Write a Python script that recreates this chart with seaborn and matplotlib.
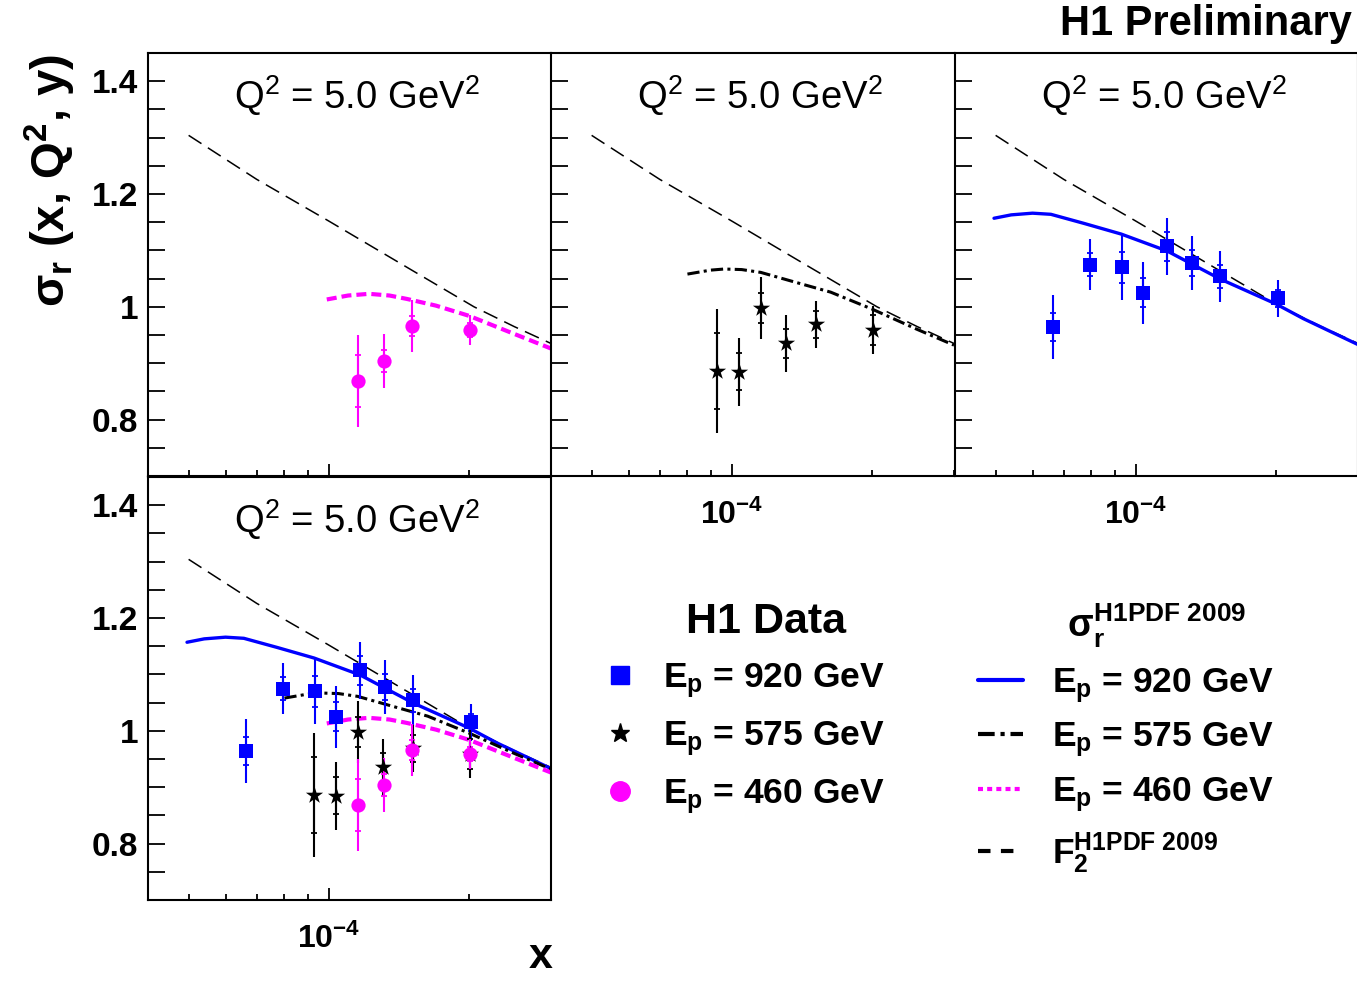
import numpy as np
import matplotlib
matplotlib.use("Agg")
import matplotlib.pyplot as plt
import matplotlib.ticker as mticker
from matplotlib.lines import Line2D
import seaborn as sns

# H1 data points at Q^2 = 5 GeV^2
x_920 = [0.665e-4, 0.796e-4, 0.932e-4, 1.037e-4, 1.164e-4, 1.317e-4, 1.519e-4, 2.016e-4]
y_920 = [0.964, 1.075, 1.070, 1.025, 1.107, 1.078, 1.054, 1.015]
stat_920 = [0.025, 0.020, 0.027, 0.026, 0.025, 0.023, 0.020, 0.015]
tot_920 = [0.057, 0.046, 0.058, 0.055, 0.050, 0.048, 0.045, 0.033]

x_575 = [0.929e-4, 1.034e-4, 1.156e-4, 1.309e-4, 1.517e-4, 2.010e-4]
y_575 = [0.886, 0.885, 0.998, 0.935, 0.969, 0.959]
stat_575 = [0.067, 0.033, 0.027, 0.025, 0.024, 0.026]
tot_575 = [0.110, 0.060, 0.055, 0.050, 0.042, 0.043]

x_460 = [1.154e-4, 1.312e-4, 1.512e-4, 2.007e-4]
y_460 = [0.868, 0.904, 0.966, 0.959]
stat_460 = [0.046, 0.020, 0.017, 0.012]
tot_460 = [0.082, 0.048, 0.046, 0.026]

# H1PDF 2009 predictions
curve_x_920 = [4.96e-5, 5.4e-5, 6.0e-5, 6.57e-5, 7.73e-5, 9.3e-5, 1.167e-4, 1.52e-4, 2.0e-4, 2.29e-4, 3.0e-4]
curve_y_920 = [1.157, 1.163, 1.166, 1.164, 1.148, 1.129, 1.099, 1.049, 1.005, 0.979, 0.933]

curve_x_575 = [8.03e-5, 9.0e-5, 9.63e-5, 1.05e-4, 1.154e-4, 1.35e-4, 1.63e-4, 2.0e-4, 2.5e-4, 3.0e-4]
curve_y_575 = [1.058, 1.065, 1.067, 1.066, 1.061, 1.045, 1.026, 0.996, 0.960, 0.932]

curve_x_460 = [0.99e-4, 1.1e-4, 1.22e-4, 1.35e-4, 1.47e-4, 1.7e-4, 2.0e-4, 2.5e-4, 3.0e-4]
curve_y_460 = [1.013, 1.020, 1.023, 1.020, 1.014, 1.002, 0.984, 0.952, 0.926]

f2_x = [5.0e-5, 7.0e-5, 1.0e-4, 1.5e-4, 2.05e-4, 2.5e-4, 3.0e-4]
f2_y = [1.304, 1.226, 1.152, 1.066, 1.000, 0.965, 0.935]

q2_label = "Q$^2$ = 5.0 GeV$^2$"
y_ticks = [0.8, 1.0, 1.2, 1.4]
y_tick_labels = ["0.8", "1", "1.2", "1.4"]

BLUE = "#0000ff"
MAGENTA = "#ff00ff"
BLACK = "#000000"

sns.set_style("ticks")
plt.rcParams["font.family"] = ["Liberation Sans", "DejaVu Sans"]
plt.rcParams["mathtext.fontset"] = "custom"
plt.rcParams["mathtext.rm"] = "Liberation Sans"
plt.rcParams["mathtext.it"] = "Liberation Sans:italic"
plt.rcParams["mathtext.bf"] = "Liberation Sans:bold"
for key in ["text.color", "axes.labelcolor", "xtick.color", "ytick.color", "axes.edgecolor"]:
    plt.rcParams[key] = "black"

fig = plt.figure(figsize=(13.57, 9.82), dpi=100)

W, H = 1357.0, 982.0


def make_axes(left_px, top_px):
    return fig.add_axes([left_px / W, 1 - (top_px + 423) / H, 403 / W, 423 / H])


def style_axes(ax, show_x_labels, show_y_labels, right_spine=True):
    ax.set_xscale("log")
    ax.set_xlim(4.09e-5, 3.0e-4)
    ax.set_ylim(0.7, 1.45)
    for sp in ax.spines.values():
        sp.set_linewidth(1.5)
        sp.set_color("black")
    ax.spines["right"].set_visible(right_spine)
    ax.xaxis.set_major_locator(mticker.LogLocator(base=10, subs=(1.0,)))
    ax.xaxis.set_minor_locator(mticker.LogLocator(base=10, subs=np.arange(2, 10)))
    ax.xaxis.set_minor_formatter(mticker.NullFormatter())
    ax.xaxis.set_major_formatter(mticker.FuncFormatter(lambda v, p: r"$\mathbf{10^{-4}}$"))
    ax.yaxis.set_major_locator(mticker.FixedLocator(y_ticks))
    ax.yaxis.set_minor_locator(mticker.MultipleLocator(0.05))
    ax.set_yticklabels(y_tick_labels)
    ax.tick_params(axis="y", which="both", direction="in", length=12, width=1.3,
                   left=True, right=False, labelsize=24, pad=7)
    ax.tick_params(axis="x", which="major", direction="in", length=8.5, width=1.3,
                   bottom=True, top=False, labelsize=23, pad=17)
    ax.tick_params(axis="x", which="minor", direction="in", length=4, width=1.3,
                   bottom=True, top=False)
    for lab in ax.get_yticklabels():
        lab.set_fontweight("bold")
    if not show_x_labels:
        ax.tick_params(axis="x", which="both", labelbottom=False)
    if not show_y_labels:
        ax.tick_params(axis="y", which="both", labelleft=False)
    ax.set_xlabel("")
    ax.set_ylabel("")
    ax.text(0.518, 0.90, q2_label, transform=ax.transAxes, ha="center", va="center",
            fontsize=27.5)


def draw_points(ax, x, y, stat, tot, color, marker, size):
    ax.errorbar(x, y, yerr=tot, fmt="none", ecolor=color, elinewidth=1.5, capsize=0, zorder=3)
    ax.errorbar(x, y, yerr=stat, fmt="none", ecolor=color, elinewidth=1.5, capsize=2.3,
                capthick=1.3, zorder=3)
    sns.scatterplot(x=x, y=y, ax=ax, color=color, marker=marker, s=size,
                    edgecolor=color, linewidth=0, zorder=4, legend=False)


def draw_f2(ax):
    sns.lineplot(x=f2_x, y=f2_y, ax=ax, color=BLACK, linewidth=1.1,
                 linestyle=(0, (10, 5)), zorder=2)


def draw_920(ax):
    sns.lineplot(x=curve_x_920, y=curve_y_920, ax=ax, color=BLUE, linewidth=2.4, zorder=2)
    draw_points(ax, x_920, y_920, stat_920, tot_920, BLUE, "s", 105)


def draw_575(ax):
    sns.lineplot(x=curve_x_575, y=curve_y_575, ax=ax, color=BLACK, linewidth=2.2,
                 linestyle=(0, (4, 1.4, 1, 1.4)), zorder=2)
    draw_points(ax, x_575, y_575, stat_575, tot_575, BLACK, "*", 170)


def draw_460(ax):
    sns.lineplot(x=curve_x_460, y=curve_y_460, ax=ax, color=MAGENTA, linewidth=3.0,
                 linestyle=(0, (2.4, 1.2)), zorder=2)
    draw_points(ax, x_460, y_460, stat_460, tot_460, MAGENTA, "o", 105)


# top row
ax1 = make_axes(148, 53)
draw_f2(ax1)
draw_460(ax1)
style_axes(ax1, show_x_labels=False, show_y_labels=True, right_spine=False)

ax2 = make_axes(551, 53)
draw_f2(ax2)
draw_575(ax2)
style_axes(ax2, show_x_labels=True, show_y_labels=False, right_spine=False)

ax3 = make_axes(955, 53)
draw_f2(ax3)
draw_920(ax3)
style_axes(ax3, show_x_labels=True, show_y_labels=False)

# bottom row: everything together
ax4 = make_axes(148, 477)
draw_f2(ax4)
draw_920(ax4)
draw_575(ax4)
draw_460(ax4)
style_axes(ax4, show_x_labels=True, show_y_labels=True)

# legends
data_handles = [
    Line2D([], [], color=BLUE, marker="s", linestyle="none", markersize=13),
    Line2D([], [], color=BLACK, marker="*", linestyle="none", markersize=14),
    Line2D([], [], color=MAGENTA, marker="o", linestyle="none", markersize=14),
]
data_labels = [
    r"$\mathbf{E_p}$ = 920 GeV",
    r"$\mathbf{E_p}$ = 575 GeV",
    r"$\mathbf{E_p}$ = 460 GeV",
]
leg1 = fig.legend(data_handles, data_labels, title="    H1 Data", loc="upper left",
                  bbox_to_anchor=(567 / W, 1 - 570 / H), frameon=False,
                  prop={"size": 25.5, "weight": "bold"}, handlelength=1.2,
                  handletextpad=0.6, labelspacing=0.54)
leg1.get_title().set_fontsize(31)
leg1.get_title().set_fontweight("bold")

pdf_handles = [
    Line2D([], [], color=BLUE, linewidth=3),
    Line2D([], [], color=BLACK, linewidth=3, linestyle=(0, (4, 1.4, 1, 1.4))),
    Line2D([], [], color=MAGENTA, linewidth=3, linestyle=(0, (1.2, 1.0))),
    Line2D([], [], color=BLACK, linewidth=3, linestyle=(0, (3, 2.5))),
]
pdf_labels = [
    r"$\mathbf{E_p}$ = 920 GeV",
    r"$\mathbf{E_p}$ = 575 GeV",
    r"$\mathbf{E_p}$ = 460 GeV",
    r"F$_\mathbf{2}^\mathbf{H1PDF\ 2009}$",
]
leg2 = fig.legend(pdf_handles, pdf_labels,
                  title=r"      σ$_\mathbf{r}^\mathbf{H1PDF\ 2009}$",
                  loc="upper left", bbox_to_anchor=(946 / W, 1 - 570 / H), frameon=False,
                  prop={"size": 25.5, "weight": "bold"}, handlelength=1.27,
                  handletextpad=0.82, labelspacing=0.45)
leg2.get_title().set_fontsize(27)
leg2.get_title().set_fontweight("bold")

# titles and axis labels
fig.text(1352 / W, 1 - 24 / H, "H1 Preliminary", ha="right", va="center",
         fontsize=30, fontweight="bold")
fig.text(553 / W, 1 - 968 / H, "x", ha="right", va="baseline", fontsize=31, fontweight="bold")
fig.text(50 / W, 1 - 180 / H, r"σ$_\mathbf{r}$ (x, Q$^\mathbf{2}$, y)", rotation=90,
         ha="center", va="center", fontsize=34, fontweight="bold")

fig.savefig("out.png", dpi=100)
